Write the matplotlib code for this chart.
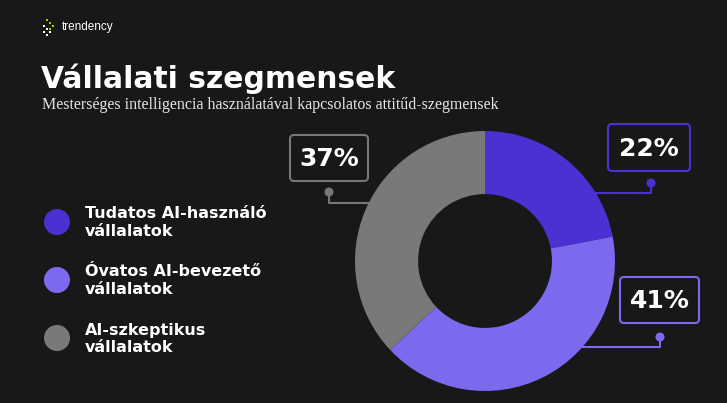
import matplotlib
matplotlib.use("Agg")
import matplotlib.pyplot as plt
from matplotlib.patches import FancyBboxPatch, Circle, Rectangle

# Data
segments = ["Tudatos AI-használó\nvállalatok", "Óvatos AI-bevezető\nvállalatok", "AI-szkeptikus\nvállalatok"]
shares = [22, 41, 37]
colors = ["#4b30d2", "#7b69ee", "#797979"]
title = "Vállalati szegmensek"
subtitle = "Mesterséges intelligencia használatával kapcsolatos attitűd-szegmensek"

BG = "#181818"
W, H = 727, 403
fig = plt.figure(figsize=(W / 100, H / 100), dpi=100, facecolor=BG)

# overlay axes in pixel coordinates (y downwards)
ov = fig.add_axes([0, 0, 1, 1], facecolor=BG)
ov.set_xlim(0, W)
ov.set_ylim(H, 0)
ov.axis("off")

# logo
for x, y in [(44, 26), (47, 29), (44, 32), (50, 32), (47, 35)]:
    ov.add_patch(Rectangle((x - 1.4, y - 1.4), 2.8, 2.8, color="white", lw=0))
for x, y in [(47, 20), (50, 23), (53, 26), (50, 29)]:
    ov.add_patch(Rectangle((x - 1.4, y - 1.4), 2.8, 2.8, color="#8fd400", lw=0))
ov.text(62, 27, "trendency", color="white", fontsize=8.5, va="center", ha="left",
        family="Liberation Sans")

# titles
ov.text(41, 79, title, color="white", fontsize=21.4, fontweight="bold", va="center",
        ha="left", family="DejaVu Sans")
ov.text(42, 105, subtitle, color="#e6e6e6", fontsize=11.5, va="center", ha="left",
        family="Liberation Serif")

# legend
leg_y = [222, 280, 338]
for lab, col, y in zip(segments, colors, leg_y):
    ov.add_patch(Circle((57, y), 13, color=col, lw=0))
    ov.text(85, y + 1, lab, color="white", fontsize=11.5, fontweight="bold", va="center",
            ha="left", family="DejaVu Sans", linespacing=1.25)

# donut
cx, cy, r = 485, 261, 130
ax = fig.add_axes([(cx - r) / W, (H - cy - r) / H, 2 * r / W, 2 * r / H])
ax.pie(shares, colors=colors, startangle=90, counterclock=False,
       wedgeprops=dict(width=0.485, linewidth=0))
ax.set_xlim(-1, 1)
ax.set_ylim(-1, 1)
ax.set_aspect("equal")
ax.axis("off")

# callouts: box (x0, y0, x1, y1), dot position, elbow y
boxes = {0: (608, 124, 690, 171), 1: (620, 277, 699, 323), 2: (290, 135, 368, 181)}
dots = {0: (651, 183), 1: (660, 337), 2: (329, 192)}
elbows = {0: 193, 1: 347, 2: 203}
edge_cols = {0: "#4b30d2", 1: "#7b69ee", 2: "#777777"}

for i, val in enumerate(shares):
    x0, y0, x1, y1 = boxes[i]
    ec = edge_cols[i]
    ov.add_patch(FancyBboxPatch((x0 + 4, y0 + 4), x1 - x0 - 8, y1 - y0 - 8,
                                boxstyle="round,pad=4", fc=BG, ec=ec, lw=1.5))
    ov.text((x0 + x1) / 2, (y0 + y1) / 2 + 1, f"{val}%", color="white", fontsize=18,
            fontweight="bold", ha="center", va="center", family="DejaVu Sans")
    dx, dy = dots[i]
    ey = elbows[i]
    side = 1 if dx < cx else -1
    ex = cx - side * (r ** 2 - (ey - cy) ** 2) ** 0.5
    ov.plot([dx, dx, ex], [dy, ey, ey], color=ec, lw=1.5, zorder=1)
    ov.add_patch(Circle((dx, dy), 4.5, color=ec, lw=0, zorder=3))

fig.savefig("out.png", dpi=100, facecolor=BG)
